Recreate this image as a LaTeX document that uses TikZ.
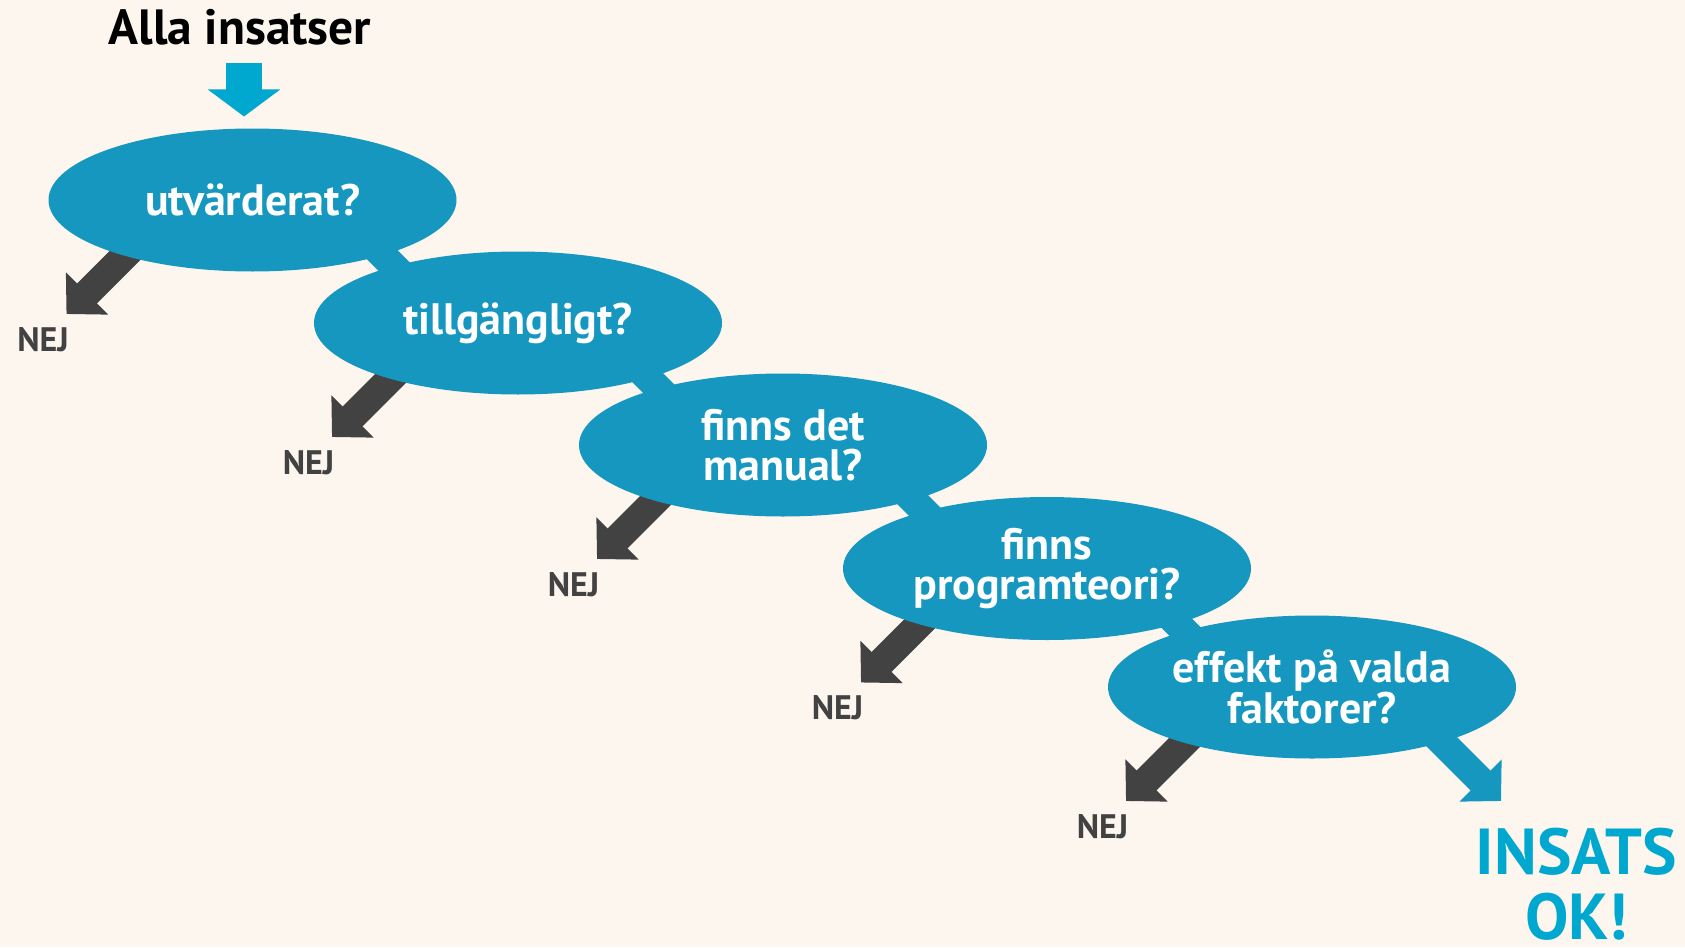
\documentclass[tikz,border=0pt]{standalone}
\usepackage{fontspec}
\setmainfont{PT Sans}
\usetikzlibrary{shapes.geometric,arrows.meta,calc}
\definecolor{bgcol}{HTML}{FDF6EF}
\definecolor{ellblue}{HTML}{1697C0}
\definecolor{brightcyan}{HTML}{00A7CE}
\definecolor{darkarrow}{HTML}{424242}
\pgfdeclarelayer{backlayer}
\pgfdeclarelayer{arrowlayer}
\pgfsetlayers{backlayer,arrowlayer,main}
\begin{document}
\begin{tikzpicture}[x=1pt,y=-1pt,
  qell/.style={ellipse, fill=ellblue, minimum width=408pt, minimum height=143pt, inner sep=0pt},
  qtext/.style={text=white, font=\bfseries\fontsize{44}{40}\selectfont, align=center, inner sep=0pt},
  nejarrow/.style={draw=darkarrow, line width=28pt, -{Triangle[length=29pt,width=58pt]}},
  okarrow/.style={draw=ellblue, line width=28pt, -{Triangle[length=29pt,width=58pt]}},
  toparrow/.style={draw=brightcyan, line width=36pt, -{Triangle[length=27pt,width=71pt]}},
  nejlabel/.style={text=darkarrow, font=\bfseries\fontsize{34}{34}\selectfont, inner sep=0pt},
  oklabel/.style={text=brightcyan, font=\bfseries\fontsize{65}{65}\selectfont, align=center, inner sep=0pt},
  titlelabel/.style={text=black, font=\bfseries\fontsize{49.5}{50}\selectfont, inner sep=0pt}
]
\begin{pgfonlayer}{backlayer}
\fill[bgcol] (0,0) rectangle (1685,947);
\end{pgfonlayer}
\useasboundingbox (0,0) rectangle (1685,947);

% question ellipses
\node[qell] (e1) at (252.5,200) {};
\node[qell] (e2) at (518,323) {};
\node[qell] (e3) at (783,445) {};
\node[qell] (e4) at (1047,568.5) {};
\node[qell] (e5) at (1312,687) {};

\node[qtext] (t1) at (e1) {utvärderat?};
\node[qtext] (t2) at (e2) {tillgängligt?};
\node[qtext] (t3) at (e3) {finns det\\manual?};
\node[qtext] (t4) at (e4) {finns\\programteori?};
\node[qtext] (t5) at (e5) {effekt på valda\\faktorer?};

% title and result
\node[titlelabel, anchor=base] (alla) at (240,44.3) {Alla insatser};
\node[oklabel] (ok) at (1576.5,884.5) {INSATS\\OK!};

% NEJ labels
\foreach \i in {1,...,5}{
  \node[nejlabel] (nej\i) at ($(e\i)+(-209.5,139.6)$) {NEJ};
}

\begin{pgfonlayer}{arrowlayer}
\draw[toparrow] ($(e1.north)+(-8.5,-65.5)$) -- ($(e1.north)+(-8.5,-11.8)$);
\foreach \i in {1,...,5}{
  \draw[nejarrow] ($(e\i)+(-72,0)$) -- ($(e\i)+(-186,114)$);
}
\foreach \i/\j in {1/2,2/3,3/4,4/5}{
  \draw[okarrow] ($(e\i)+(75,0)$) -- ($(e\i)+(189,114)$);
}
\draw[okarrow] ($(e5)+(75,0)$) -- ($(e5)+(189,114)$);
\end{pgfonlayer}
\end{tikzpicture}
\end{document}
